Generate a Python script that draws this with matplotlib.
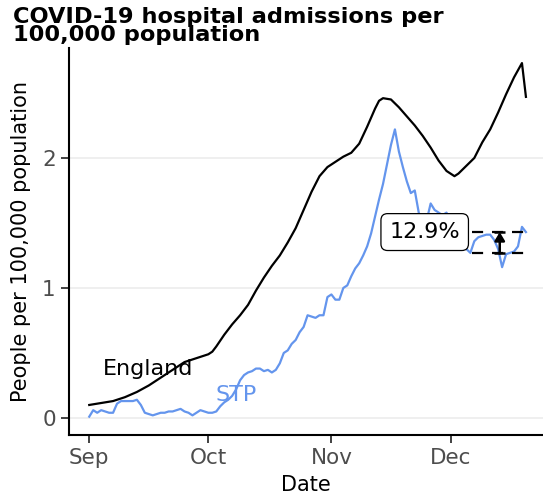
import numpy as np
import pandas as pd
import matplotlib
matplotlib.use("Agg")
import matplotlib.pyplot as plt

# ==================================================
# Data (days since 1 Sep, value per 100,000)
# ==================================================
start = pd.Timestamp("2020-09-01")

england_days = [0, 2, 6, 9, 12, 15, 18, 21, 24, 26, 28, 30, 31, 32, 34, 36, 38, 40,
                42, 44, 46, 48, 50, 52, 54, 56, 58, 60, 62, 64, 66, 68, 70, 72, 73,
                74, 76, 78, 80, 82, 84, 86, 88, 90, 92, 93, 95, 97, 99, 101, 103,
                105, 107, 109, 110]
england_vals = [0.10, 0.11, 0.13, 0.16, 0.20, 0.25, 0.31, 0.37, 0.43, 0.45, 0.47,
                0.49, 0.51, 0.55, 0.64, 0.72, 0.79, 0.87, 0.98, 1.08, 1.17, 1.25,
                1.35, 1.46, 1.60, 1.74, 1.86, 1.93, 1.97, 2.01, 2.04, 2.11, 2.24,
                2.38, 2.44, 2.46, 2.45, 2.39, 2.32, 2.25, 2.17, 2.08, 1.98, 1.90,
                1.86, 1.88, 1.94, 2.00, 2.12, 2.22, 2.35, 2.49, 2.62, 2.73, 2.47]

stp_days = list(range(0, 111))
stp_vals = [0.01, 0.06, 0.04, 0.06, 0.05, 0.04, 0.04, 0.11, 0.13, 0.13,
            0.13, 0.13, 0.14, 0.10, 0.04, 0.03, 0.02, 0.03, 0.04, 0.04,
            0.05, 0.05, 0.06, 0.07, 0.05, 0.04, 0.02, 0.04, 0.06, 0.05,
            0.04, 0.04, 0.05, 0.09, 0.12, 0.14, 0.17, 0.22, 0.29, 0.33,
            0.35, 0.36, 0.38, 0.38, 0.36, 0.37, 0.35, 0.37, 0.42, 0.50,
            0.52, 0.57, 0.60, 0.66, 0.70, 0.79, 0.78, 0.77, 0.79, 0.79,
            0.93, 0.95, 0.91, 0.91, 1.00, 1.02, 1.09, 1.15, 1.19, 1.25,
            1.32, 1.42, 1.55, 1.68, 1.80, 1.95, 2.10, 2.22, 2.05, 1.93,
            1.82, 1.73, 1.75, 1.58, 1.50, 1.52, 1.65, 1.60, 1.58, 1.56,
            1.58, 1.50, 1.45, 1.40, 1.35, 1.30, 1.27, 1.36, 1.39, 1.40,
            1.41, 1.41, 1.37, 1.30, 1.16, 1.26, 1.27, 1.28, 1.32, 1.47, 1.43]

ref_days = [96.3, 110]
ref_top = 1.43
ref_bottom = 1.266
bar_day = 103.4
pct_label = "12.9%"

x_ticks = ["2020-09-01", "2020-10-01", "2020-11-01", "2020-12-01"]
x_labels = ["Sep", "Oct", "Nov", "Dec"]
y_ticks = [0, 1, 2]


def to_dates(days):
    return start + pd.to_timedelta(np.asarray(days, dtype=float), unit="D")


# ==================================================
# Plot
# ==================================================
fig = plt.figure(figsize=(5.43, 4.98), dpi=100)
ax = fig.add_axes([69 / 543, 1 - 434.6 / 498, (543 - 69) / 543, (434.6 - 48) / 498])

for y in y_ticks:
    ax.axhline(y, color="#EBEBEB", lw=1.1, zorder=0)

ax.plot(to_dates(stp_days), stp_vals, color="#6495ED", lw=1.6, zorder=2)
ax.plot(to_dates(england_days), england_vals, color="black", lw=1.6, zorder=3)

# reference dashed lines + arrow
for yv in (ref_top, ref_bottom):
    ax.plot(to_dates(ref_days), [yv, yv], color="black", lw=1.6,
            dashes=(5, 4), zorder=4)

bx = to_dates([bar_day])[0]
cap = pd.Timedelta(days=1.4)
ax.hlines([ref_top, ref_bottom], bx - cap, bx + cap, color="black", lw=1.8, zorder=5)
ax.annotate("", xy=(bx, ref_top), xytext=(bx, ref_bottom),
            arrowprops=dict(arrowstyle="-|>,head_length=0.5,head_width=0.3",
                            color="black", lw=1.8, shrinkA=0, shrinkB=0),
            zorder=5)

ax.text(to_dates([84.5])[0], ref_top, pct_label, fontsize=16, ha="center",
        va="center", zorder=6,
        bbox=dict(boxstyle="round,pad=0.38,rounding_size=0.3", fc="white",
                  ec="black", lw=0.9))

ax.text(to_dates([3.5])[0], 0.33, "England", fontsize=16, color="black",
        va="baseline", zorder=6)
ax.text(to_dates([31.8])[0], 0.13, "STP", fontsize=16, color="#6495ED",
        va="baseline", zorder=6)

ax.set_xlim(to_dates([-5.1])[0], to_dates([114.3])[0])
ax.set_ylim(-0.128, 2.846)
ax.set_xticks(pd.to_datetime(x_ticks))
ax.set_xticklabels(x_labels)
ax.set_yticks(y_ticks)

for s in ("top", "right"):
    ax.spines[s].set_visible(False)
for s in ("left", "bottom"):
    ax.spines[s].set_linewidth(1.5)
ax.tick_params(axis="both", length=5.5, width=1.3, color="#333333",
               labelcolor="#4D4D4D", labelsize=15.5, pad=4)

ax.set_xlabel("Date", fontsize=15, labelpad=5)
ax.set_ylabel("People per 100,000 population", fontsize=15, labelpad=8)

fig.text(13 / 543, 1 - 7 / 498, "COVID-19 hospital admissions per\n100,000 population",
         fontsize=16.2, fontweight="bold", ha="left", va="top", linespacing=0.85)

fig.savefig("out.png", dpi=100)
